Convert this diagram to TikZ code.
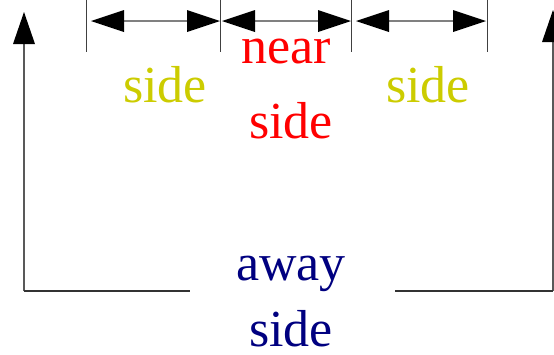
\documentclass[tikz,border=0pt]{standalone}
\usepackage{fontspec}
\setmainfont{Liberation Serif}
\usetikzlibrary{arrows.meta}
\definecolor{sideyellow}{RGB}{204,204,0}
\definecolor{nearred}{RGB}{255,0,0}
\definecolor{awayblue}{RGB}{0,0,128}
\definecolor{dimgray}{RGB}{128,128,128}
\begin{document}
\begin{tikzpicture}[x=1pt,y=-1pt,
  lbl/.style={font=\fontsize{52}{52}\selectfont, anchor=base, inner sep=0pt},
  tick/.style={draw=black!75, line width=1pt},
  dimline/.style={draw=dimgray, line width=2pt, {Triangle[length=33pt,width=22pt,color=black,fill=black,line width=0pt]}-{Triangle[length=33pt,width=22pt,color=black,fill=black,line width=0pt]}},
  frame/.style={draw=black!80, line width=1.2pt},
  uparrow/.style={draw=black!65, line width=2pt, -{Triangle[length=32pt,width=22pt,color=black,fill=black,line width=0pt]}}
]
\useasboundingbox (0,0) rectangle (554,354);
% ticks
\coordinate (t1top) at (86,0);   \coordinate (t1bot) at (86,52);
\coordinate (t2top) at (220,0);  \coordinate (t2bot) at (220,52);
\coordinate (t3top) at (351,0);  \coordinate (t3bot) at (351,52);
\coordinate (t4top) at (487,0);  \coordinate (t4bot) at (487,52);
\draw[tick] (t1top) -- (t1bot);
\draw[tick] (t2top) -- (t2bot);
\draw[tick] (t3top) -- (t3bot);
\draw[tick] (t4top) -- (t4bot);
% dimension arrows
\coordinate (d1a) at (91,21);  \coordinate (d1b) at (220,21);
\coordinate (d2a) at (222,21); \coordinate (d2b) at (351,21);
\coordinate (d3a) at (356,21); \coordinate (d3b) at (486,21);
\draw[dimline] (d1a) -- (d1b);
\draw[dimline] (d2a) -- (d2b);
\draw[dimline] (d3a) -- (d3b);
% frame
\coordinate (lb) at (24,291);  \coordinate (lt) at (24,12);
\coordinate (bl) at (190,291); \coordinate (br) at (395,291);
\coordinate (rb) at (553,291); \coordinate (rt) at (553,10);
\draw[uparrow] (lb) -- (lt);
\draw[uparrow] (rb) -- (rt);
\draw[frame] (lb) -- (bl);
\draw[frame] (br) -- (rb);
% labels
\node[lbl, text=sideyellow] (sl) at (165,102) {side};
\node[lbl, text=sideyellow] (sr) at (428,102) {side};
\node[lbl, text=nearred] (near) at (286,63) {near};
\node[lbl, text=nearred] (nside) at (291,138) {side};
\node[lbl, text=awayblue] (away) at (291,280) {away};
\node[lbl, text=awayblue] (aside) at (291,346) {side};
\end{tikzpicture}
\end{document}
